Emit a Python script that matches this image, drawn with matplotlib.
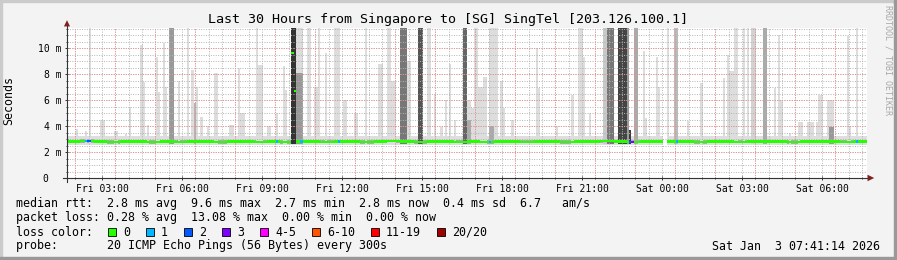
from datetime import datetime, timedelta

import matplotlib.pyplot as plt
import numpy as np
from matplotlib.patches import Rectangle
from matplotlib.transforms import ScaledTranslation

plt.rcParams["font.family"] = ["DejaVu Sans Mono"]

# --- data -------------------------------------------------------------
start = datetime(2026, 1, 2, 1, 41, 14)
n_steps = 360  # 5-minute steps, 30 hours
y_top = 11.54

# median rtt (ms), one value per half hour
median_ms = [
    2.80, 2.84, 2.80, 2.78, 2.80, 2.82, 2.78, 2.80, 2.79, 2.81,
    2.80, 2.78, 2.82, 2.80, 2.79, 2.81, 2.78, 2.80, 2.82, 2.79,
    2.80, 2.81, 2.78, 2.80, 2.83, 2.80, 2.78, 2.80, 2.82, 2.79,
    2.80, 2.78, 2.81, 2.80, 2.79, 2.82, 2.80, 2.78, 2.80, 2.81,
    2.83, 2.80, 2.79, 2.81, 2.80, 2.82, 2.80, 2.78, 2.80, 2.81,
    2.79, 2.80, 2.82, 2.80, 2.78, 2.81, 2.80, 2.82, 2.79, 2.80,
]
median_peak_step = [101, 102]
median_peak_ms = [9.6, 6.7]
gap_step = [268, 269]

loss_step = [8, 9, 10, 94, 105, 122, 190, 253, 254, 274, 355]
loss_pings = [1, 2, 2, 1, 1, 1, 1, 2, 3, 1, 1]

# base smoke band around the median
base_low, base_high = 2.55, 3.2

# smoke columns: first step, number of steps, top (ms), gray level
smoke_step = [4, 8, 10, 15, 21, 26, 28, 33, 34, 36, 40, 41, 43, 44, 46, 50,
              54, 56, 57, 58, 60, 63, 66, 73, 77, 78, 85, 86, 90, 94, 97, 98,
              101, 103, 103, 108, 111, 113, 116, 120, 124, 129, 134, 140, 144,
              146, 150, 153, 158, 162, 165, 168, 170, 172, 174, 178, 180, 180,
              182, 183, 185, 187, 190, 190, 195, 196, 200, 211, 212, 220, 227,
              230, 232, 235, 241, 243, 248, 252, 253, 255, 259, 260, 265, 266,
              270, 273, 279, 285, 295, 297, 298, 300, 304, 306, 308, 313, 318,
              320, 321, 325, 329, 333, 337, 338, 342, 343, 351, 352, 355]
smoke_len = [1, 1, 1, 2, 2, 1, 1, 1, 1, 1, 1, 1, 1, 1, 2, 1,
             1, 1, 1, 1, 1, 1, 2, 2, 1, 2, 1, 2, 2, 1, 1, 1,
             2, 3, 3, 2, 2, 1, 1, 3, 2, 2, 1, 2, 2,
             2, 3, 2, 2, 2, 1, 1, 1, 1, 1, 2, 2, 2,
             1, 2, 2, 2, 4, 2, 1, 1, 1, 1, 1, 1, 1,
             2, 1, 1, 2, 3, 4, 1, 1, 2, 1, 1, 1, 1,
             1, 2, 1, 1, 1, 1, 2, 2, 1, 1, 2, 2, 1,
             1, 1, 1, 2, 3, 1, 2, 3, 2, 1, 1, 1]
smoke_top = [3.8, 3.6, 12, 4.5, 3.6, 3.4, 5.5, 10.2, 7.4, 4.1, 9.3, 6.6, 10.4, 7.0, 12, 7.5,
             12, 8.3, 5.8, 7.0, 4.7, 4.0, 8.1, 4.1, 8.5, 5.0, 12, 8.7, 4.0, 5.0, 8.6, 6.8,
             12, 12, 8.1, 12, 7.0, 12, 9.6, 12, 6.0, 5.0, 12, 8.8, 12,
             7.5, 12, 9.0, 12, 12, 6.5, 3.9, 6.0, 8.8, 4.5, 12, 6.0, 4.5,
             5.4, 12, 7.0, 7.8, 12, 4.0, 7.5, 5.4, 4.5, 10.0, 6.9, 4.0, 6.4,
             12, 9.3, 5.0, 12, 12, 12, 12, 3.7, 12, 9.8, 4.6, 9.3, 7.0,
             12, 12, 4.4, 7.3, 7.7, 9.5, 8.2, 12, 12, 12, 12, 12, 6.9,
             11.0, 6.0, 3.5, 4.3, 4.3, 4.3, 6.4, 6.0, 3.9, 10.9, 4.0, 12]
smoke_gray = [221, 221, 221, 221, 221, 221, 221, 221, 221, 221, 221, 221, 221, 221, 153, 221,
              221, 221, 180, 221, 221, 221, 221, 221, 221, 221, 221, 221, 221, 221, 221, 221,
              51, 221, 153, 221, 221, 221, 221, 221, 221, 221, 221, 221, 221,
              221, 119, 221, 85, 221, 221, 221, 221, 221, 221, 102, 221, 170,
              221, 221, 221, 221, 221, 170, 221, 221, 221, 221, 221, 221, 221,
              221, 221, 221, 200, 119, 68, 153, 60, 170, 221, 221, 221, 221,
              221, 187, 221, 221, 221, 221, 221, 221, 221, 221, 210, 170, 221,
              221, 221, 221, 221, 221, 221, 221, 221, 153, 221, 221, 221]

loss_labels = ["0", "1", "2", "3", "4-5", "6-10", "11-19", "20/20"]
loss_colors = ["#26ff00", "#00b8ff", "#0059ff", "#7e00ff",
               "#ff00ff", "#ff5500", "#ff0000", "#a10000"]

# --- figure -----------------------------------------------------------
W, H = 897, 260
fig = plt.figure(figsize=(W / 100, H / 100), dpi=100, facecolor="#f3f3f3")
ax = fig.add_axes([67 / W, 1 - 178 / H, 800 / W, 150 / H])
ax.set_facecolor("white")
ax.set_xlim(0, n_steps / 12)
ax.set_ylim(0, y_top)
for s in ax.spines.values():
    s.set_visible(False)

# frame shading
fig.patches.append(Rectangle((0, 1 - 2 / H), 1, 2 / H, transform=fig.transFigure, color="#cbcbcb"))
fig.patches.append(Rectangle((0, 0), 2 / W, 1, transform=fig.transFigure, color="#cbcbcb"))
fig.patches.append(Rectangle((0, 0), 1, 3 / H, transform=fig.transFigure, color="#999999"))
fig.patches.append(Rectangle((1 - 3 / W, 0), 3 / W, 1, transform=fig.transFigure, color="#999999"))

steps = np.arange(n_steps)
valid = ~np.isin(steps, gap_step)
med = np.repeat(median_ms, 6).astype(float)
med[median_peak_step] = median_peak_ms
xs = steps[valid] / 12

# base smoke
ax.bar(xs, base_high - base_low, width=1 / 12, bottom=base_low, align="edge",
       color="#dedede", lw=0, zorder=1)
ax.bar(xs, 0.26, width=1 / 12, bottom=med[valid] - 0.13, align="edge",
       color="#ababab", lw=0, zorder=1.1)

# smoke columns, light first
order = np.argsort(-np.array(smoke_gray), kind="stable")
for i in order:
    g = smoke_gray[i]
    ax.bar(smoke_step[i] / 12, smoke_top[i] - 2.6, width=smoke_len[i] / 12,
           bottom=2.6, align="edge", color=f"#{g:02x}{g:02x}{g:02x}", lw=0,
           zorder=1.2 + (255 - g) / 255)

# grid
t_first = (datetime(2026, 1, 2, 2, 0) - start).total_seconds() / 3600
minor_x = np.arange(t_first, 30, 0.5)
major_x = np.arange(t_first, 30, 1.5)
ax.vlines(minor_x, 0, y_top, colors="#b4b4b4", linestyles=[(0, (1, 1.5))], lw=0.7, zorder=2.5)
ax.vlines(major_x, 0, y_top, colors="#ee8c8c", linestyles=[(0, (1, 1.5))], lw=0.7, zorder=2.6)
ax.hlines(np.arange(0.5, y_top, 0.5), 0, 30, colors="#b4b4b4", linestyles=[(0, (1, 1.5))], lw=0.7, zorder=2.5)
ax.hlines(np.arange(2, y_top, 2), 0, 30, colors="#ee8c8c", linestyles=[(0, (1, 1.5))], lw=0.7, zorder=2.6)

# median line colored by loss
col = np.array([loss_colors[0]] * n_steps, dtype=object)
for s, p in zip(loss_step, loss_pings):
    idx = 1 if p == 1 else 2 if p == 2 else 3 if p == 3 else 4 if p <= 5 else 5 if p <= 10 else 6 if p <= 19 else 7
    col[s] = loss_colors[idx]
ax.bar(xs, 0.18, width=1 / 12, bottom=med[valid] - 0.09, align="edge",
       color=list(col[valid]), lw=0, zorder=3)

# axes with arrows
ac = "#333333"
ax.plot([0, 0], [-0.3, y_top + 0.15], color=ac, lw=0.8, clip_on=False, zorder=4)
ax.plot([-0.15, 30.05], [0, 0], color=ac, lw=0.8, clip_on=False, zorder=4)
ax.fill([-0.115, 0.115, 0], [y_top + 0.12, y_top + 0.12, y_top + 0.6],
        color="#7f1f1f", lw=0, clip_on=False, zorder=5)
ax.fill([30.02, 30.02, 30.27], [-0.25, 0.25, 0], color="#7f1f1f", lw=0,
        clip_on=False, zorder=5)

# ticks
label_times = [datetime(2026, 1, 2, 3, 0) + timedelta(hours=3 * k) for k in range(10)]
ax.set_xticks([(t - start).total_seconds() / 3600 for t in label_times])
ax.set_xticklabels([t.strftime("%a %H:%M") for t in label_times])
ax.set_xticks(minor_x, minor=True)
ax.set_yticks(np.arange(0, 11, 2))
ax.set_yticklabels(["0"] + [f"{v} m" for v in range(2, 11, 2)])
ax.set_yticks(np.arange(0.5, y_top, 0.5), minor=True)
ax.tick_params(which="both", direction="inout", color=ac, width=0.7, labelsize=7)
ax.tick_params(which="major", length=3, pad=2.5)
ax.tick_params(which="minor", length=2)
ax.get_yticklabels()[0].set_transform(
    ax.get_yticklabels()[0].get_transform() + ScaledTranslation(-0.13, 0, fig.dpi_scale_trans))

ax.set_ylabel("Seconds", fontsize=8.4)
ax.yaxis.set_label_coords(-52 / 800, 0.517)

# texts
fig.text(448 / W, 1 - 19 / H, "Last 30 Hours from Singapore to [SG] SingTel [203.126.100.1]",
         ha="center", va="center", fontsize=9.6)
fig.text(888 / W, 1 - 5 / H, "RRDTOOL / TOBI OETIKER", rotation=270, ha="center",
         va="top", fontsize=6, color="#a8a8a8")

fs = 8.4
fig.text(16 / W, 1 - 204 / H,
         "median rtt:  2.8 ms avg  9.6 ms max  2.7 ms min  2.8 ms now  0.4 ms sd  6.7   am/s",
         va="center", fontsize=fs)
fig.text(16 / W, 1 - 218 / H,
         "packet loss: 0.28 % avg  13.08 % max  0.00 % min  0.00 % now",
         va="center", fontsize=fs)
fig.text(16 / W, 1 - 232 / H, "loss color:", va="center", fontsize=fs)
bx = 108
for lab, c in zip(loss_labels, loss_colors):
    fig.patches.append(Rectangle((bx / W, 1 - 236 / H), 8 / W, 8 / H, transform=fig.transFigure,
                                 facecolor=c, edgecolor="black", lw=0.6))
    fig.text((bx + 15) / W, 1 - 232 / H, lab, va="center", fontsize=fs)
    bx += 15 + 7 * len(lab) + 16
fig.text(16 / W, 1 - 246 / H, "probe:       20 ICMP Echo Pings (56 Bytes) every 300s",
         va="center", fontsize=fs)
fig.text(880 / W, 1 - 246 / H, "Sat Jan  3 07:41:14 2026", ha="right", va="center", fontsize=fs)

fig.savefig("out.png", dpi=100, facecolor=fig.get_facecolor())
